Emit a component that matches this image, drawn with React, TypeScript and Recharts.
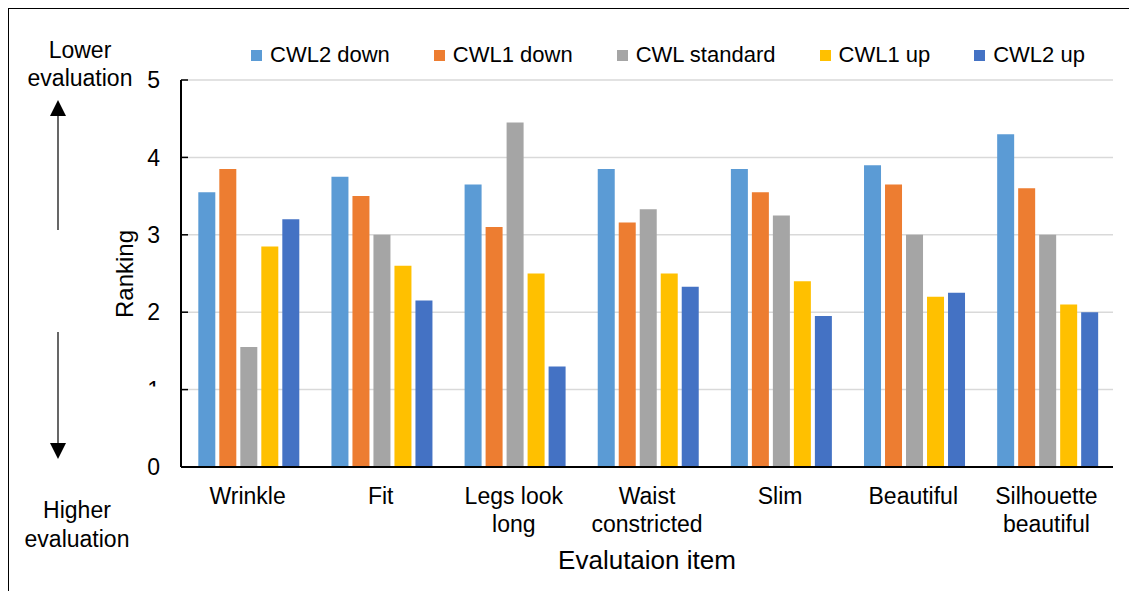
import { BarChart, Bar, XAxis, YAxis, CartesianGrid } from "recharts";

const FONT = '"Liberation Sans", Arial, sans-serif';

const categories = [
  "Wrinkle",
  "Fit",
  "Legs look\nlong",
  "Waist\nconstricted",
  "Slim",
  "Beautiful",
  "Silhouette\nbeautiful",
];
const cwl2Down = [3.55, 3.75, 3.65, 3.85, 3.85, 3.9, 4.3];
const cwl1Down = [3.85, 3.5, 3.1, 3.16, 3.55, 3.65, 3.6];
const cwlStandard = [1.55, 3.0, 4.45, 3.33, 3.25, 3.0, 3.0];
const cwl1Up = [2.85, 2.6, 2.5, 2.5, 2.4, 2.2, 2.1];
const cwl2Up = [3.2, 2.15, 1.3, 2.33, 1.95, 2.25, 2.0];
const yTicks = [0, 1, 2, 3, 4, 5];

const series = [
  { key: "cwl2Down", name: "CWL2 down", color: "#5B9BD5", values: cwl2Down },
  { key: "cwl1Down", name: "CWL1 down", color: "#ED7D31", values: cwl1Down },
  { key: "cwlStandard", name: "CWL standard", color: "#A5A5A5", values: cwlStandard },
  { key: "cwl1Up", name: "CWL1 up", color: "#FFC000", values: cwl1Up },
  { key: "cwl2Up", name: "CWL2 up", color: "#4472C4", values: cwl2Up },
];

const data = categories.map((name, i) => {
  const row: { [k: string]: string | number } = { name };
  series.forEach((s) => (row[s.key] = s.values[i]));
  return row;
});

const axisStroke = { stroke: "#000", strokeWidth: 2 };

const YTick = (props: any) => {
  const { x, y, payload } = props;
  const v = payload.value;
  const common = {
    x: x - 21,
    y,
    dy: "0.36em",
    textAnchor: "end" as const,
    fontSize: 23,
    fontFamily: FONT,
    fill: "#000",
  };
  return (
    <g>
      <line x1={x} x2={x + 7} y1={y} y2={y} stroke="#000" strokeWidth={1.5} />
      {v === 1 ? (
        <g>
          <clipPath id="clip-tick-one">
            <rect x={x - 40} y={y - 9} width={40} height={6} />
          </clipPath>
          <text {...common} clipPath="url(#clip-tick-one)">
            {v}
          </text>
        </g>
      ) : (
        <text {...common}>{v}</text>
      )}
    </g>
  );
};

const XTick = (props: any) => {
  const { x, y, payload } = props;
  const lines = String(payload.value).split("\n");
  return (
    <text x={x} y={y} textAnchor="middle" fontSize={23} fontFamily={FONT} fill="#000">
      {lines.map((l, i) => (
        <tspan key={i} x={x} y={y + 37 + i * 28}>
          {l}
        </tspan>
      ))}
    </text>
  );
};

const Legend = () => (
  <div
    style={{
      position: "absolute",
      left: 243,
      top: 33,
      display: "flex",
      gap: 44,
      fontFamily: FONT,
      fontSize: 22,
      lineHeight: "28px",
      color: "#000",
      whiteSpace: "nowrap",
    }}
  >
    {series.map((s) => (
      <div key={s.key} style={{ display: "flex", alignItems: "center" }}>
        <span style={{ width: 11, height: 11, background: s.color, marginRight: 8 }} />
        <span>{s.name}</span>
      </div>
    ))}
  </div>
);

const Notes = () => (
  <svg
    width={1129}
    height={583}
    style={{ position: "absolute", left: 0, top: 0, pointerEvents: "none" }}
    fontFamily={FONT}
  >
    <text x={72} y={50} textAnchor="middle" fontSize={23}>Lower</text>
    <text x={72} y={78} textAnchor="middle" fontSize={23}>evaluation</text>
    <polygon points="50,92 42,108 58,108" fill="#000" />
    <line x1={50} y1={106} x2={50} y2={222} stroke="#000" strokeWidth={1.2} />
    <line x1={50} y1={324} x2={50} y2={437} stroke="#000" strokeWidth={1.2} />
    <polygon points="42,435 58,435 50,451" fill="#000" />
    <text x={69} y={510} textAnchor="middle" fontSize={23}>Higher</text>
    <text x={69} y={539} textAnchor="middle" fontSize={23}>evaluation</text>
    <text transform="translate(125,266) rotate(-90)" textAnchor="middle" fontSize={24}>
      Ranking
    </text>
    <text x={639} y={561} textAnchor="middle" fontSize={26}>
      Evalutaion item
    </text>
  </svg>
);

export default function App() {
  return (
    <div style={{ position: "relative", width: 1129, height: 583, background: "#fff" }}>
      <div style={{ position: "absolute", left: -1, top: -1, width: 1131, height: 2, background: "#000" }} />
      <div style={{ position: "absolute", left: -1, top: -1, width: 2, height: 585, background: "#000" }} />
      <BarChart
        width={1129}
        height={583}
        data={data}
        margin={{ top: 72, right: 24, bottom: 0, left: 0 }}
        barCategoryGap="13%"
        barGap={4}
      >
        <CartesianGrid vertical={false} stroke="#d9d9d9" strokeWidth={1.5} />
        <XAxis
          dataKey="name"
          height={124}
          interval={0}
          tickSize={0}
          tickMargin={0}
          tickLine={false}
          axisLine={axisStroke}
          tick={XTick}
        />
        <XAxis
          xAxisId="frame"
          orientation="top"
          dataKey="name"
          height={0}
          tick={false}
          tickLine={false}
          axisLine={axisStroke}
        />
        <YAxis
          domain={[0, 5]}
          ticks={yTicks}
          width={173}
          interval={0}
          tickSize={0}
          tickMargin={0}
          tickLine={false}
          axisLine={axisStroke}
          tick={YTick}
        />
        <YAxis
          yAxisId="frame"
          orientation="right"
          domain={[0, 5]}
          width={0}
          tick={false}
          tickLine={false}
          axisLine={axisStroke}
        />
        {series.map((s) => (
          <Bar key={s.key} dataKey={s.key} name={s.name} fill={s.color} isAnimationActive={false} />
        ))}
      </BarChart>
      <Legend />
      <Notes />
    </div>
  );
}
